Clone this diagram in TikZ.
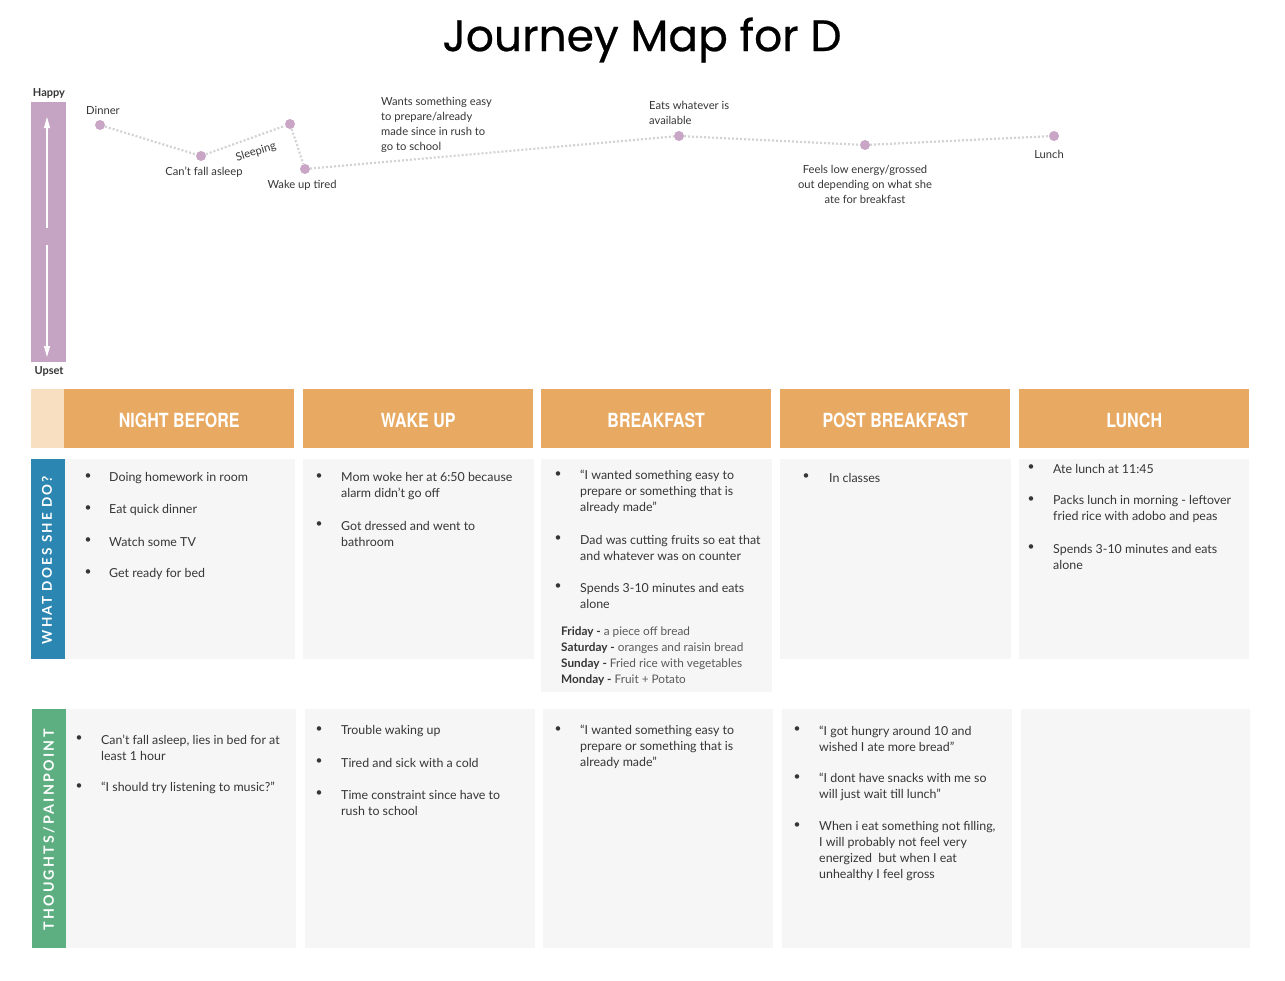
\documentclass[tikz,border=0pt]{standalone}
\usepackage{fontspec}
\setmainfont{Lato}
\newfontfamily\titlefont[FakeBold=0.6]{Poppins}
\newfontfamily\hdrfont[FakeStretch=0.82]{TeX Gyre Heros}
\newfontfamily\vlabfont[LetterSpace=16]{Lato}
\usetikzlibrary{arrows.meta}
\definecolor{moodpurple}{HTML}{C5A3C3}
\definecolor{dotpurple}{HTML}{C9A6C6}
\definecolor{hdrorange}{HTML}{E8AA63}
\definecolor{peach}{HTML}{F8DFC2}
\definecolor{rowblue}{HTML}{2C86B2}
\definecolor{rowgreen}{HTML}{5DAF82}
\definecolor{cellgray}{HTML}{F6F6F6}
\definecolor{txtgray}{HTML}{363636}
\definecolor{daygray}{HTML}{5A5A5A}
\definecolor{linegray}{HTML}{D3D3D3}
\tikzset{
  moodot/.style={circle, fill=dotpurple, inner sep=0pt, minimum size=10pt},
  moodline/.style={linegray, line width=2.2pt, dash pattern=on 2pt off 2pt},
  clab/.style={font=\fontsize{11.2}{15}\selectfont, text=txtgray, inner sep=0pt, align=left},
  hdr/.style={fill=hdrorange, minimum width=230pt, minimum height=59pt, inner sep=0pt,
    text=white, font=\hdrfont\bfseries\fontsize{19.5}{20}\selectfont},
  hdrtext/.style={text=white, inner sep=0pt, font=\hdrfont\bfseries\fontsize{19.5}{20}\selectfont},
  cell/.style={fill=cellgray},
  itm/.style={font=\fontsize{12.4}{16}\selectfont, text=txtgray, inner sep=0pt, align=left, anchor=west},
  bul/.style={font=\fontsize{12}{16}\selectfont, text=txtgray, inner sep=0pt},
  vlab/.style={rotate=90, text=white, inner sep=0pt, font=\vlabfont\bfseries\fontsize{13.5}{16}\selectfont},
  moodarrow/.style={white, line width=1.1pt, -{Triangle[width=6pt,length=11pt]}}
}
\begin{document}
\begin{tikzpicture}[x=1pt,y=-1pt]
\useasboundingbox (0,0) rectangle (1285,980);
\fill[white] (0,0) rectangle (1285,980);

% title
\node[font=\titlefont\fontsize{44}{50}\selectfont, text=black] (title) at (642,40) {Journey Map for D};

% mood scale
\node[font=\bfseries\fontsize{11}{13}\selectfont, text=txtgray, inner sep=0pt] (happy) at (49,93) {Happy};
\fill[moodpurple] (31,102) rectangle (66,362);
\node[font=\bfseries\fontsize{11}{13}\selectfont, text=txtgray, inner sep=0pt] (upset) at (49,371) {Upset};
\coordinate (aup1) at (47,228);
\coordinate (aup2) at (47,117);
\coordinate (adn1) at (47,245);
\coordinate (adn2) at (47,357);
\draw[moodarrow] (aup1) -- (aup2);
\draw[moodarrow] (adn1) -- (adn2);

% mood curve
\node[moodot] (d1) at (100,125) {};
\node[moodot] (d2) at (201,156) {};
\node[moodot] (d3) at (290,124) {};
\node[moodot] (d4) at (305,169) {};
\node[moodot] (d5) at (679,136) {};
\node[moodot] (d6) at (865,145) {};
\node[moodot] (d7) at (1054,136) {};
\draw[moodline] (d1) -- (d2);
\draw[moodline] (d2) -- (d3);
\draw[moodline] (d3) -- (d4);
\draw[moodline] (d4) -- (d5);
\draw[moodline] (d5) -- (d6);
\draw[moodline] (d6) -- (d7);

\node[clab, anchor=west] (l1) at (86,110) {Dinner};
\node[clab] (l2) at (204,172) {Can’t fall asleep};
\node[clab, rotate=17] (l3) at (256,152) {Sleeping};
\node[clab] (l4) at (302,185) {Wake up tired};
\node[clab, anchor=west] (l5) at (381,124.5) {Wants something easy\\to prepare/already\\made since in rush to\\go to school};
\node[clab, anchor=west] (l6) at (649,113) {Eats whatever is\\available};
\node[clab, align=center] (l7) at (865,184) {Feels low energy/grossed\\out depending on what she\\ate for breakfast};
\node[clab] (l8) at (1049,154) {Lunch};

% header row
\fill[peach] (31,389) rectangle (64,448);
\node[hdr, anchor=north west] (h1) at (64,389) {};
\node[hdr, anchor=north west] (h2) at (303,389) {};
\node[hdr, anchor=north west] (h3) at (541,389) {};
\node[hdr, anchor=north west] (h4) at (780,389) {};
\node[hdr, anchor=north west] (h5) at (1019,389) {};
\node[hdrtext] (t1) at ([yshift=-2pt]h1.center) {NIGHT BEFORE};
\node[hdrtext] (t2) at ([yshift=-2pt]h2.center) {WAKE UP};
\node[hdrtext] (t3) at ([yshift=-2pt]h3.center) {BREAKFAST};
\node[hdrtext] (t4) at ([yshift=-2pt]h4.center) {POST BREAKFAST};
\node[hdrtext] (t5) at ([yshift=-2pt]h5.center) {LUNCH};

% row 1
\fill[rowblue] (31,459) rectangle (65,659);
\node[vlab] (r1) at (47,560) {WHAT DOES SHE DO?};
\fill[cell] (65,459) rectangle (295,659);
\fill[cell] (303,459) rectangle (534,659);
\fill[cell] (541,459) rectangle (772,692);
\fill[cell] (780,459) rectangle (1011,659);
\fill[cell] (1019,459) rectangle (1249,659);

% row 2
\fill[rowgreen] (32,709) rectangle (66,948);
\node[vlab, font=\vlabfont\bfseries\fontsize{14.2}{16}\selectfont] (r2) at (49,830) {THOUGHTS/PAINPOINT};
\fill[cell] (66,709) rectangle (296,948);
\fill[cell] (305,709) rectangle (535,948);
\fill[cell] (543,709) rectangle (773,948);
\fill[cell] (782,709) rectangle (1012,948);
\fill[cell] (1021,709) rectangle (1250,948);

% row 1 col 1
\foreach \yy/\tt in {477/Doing homework in room, 509/Eat quick dinner, 541/Watch some TV, 573/Get ready for bed}{
  \node[bul] at (88,\yy) {•};
  \node[itm] at (109,\yy+1) {\tt};
}
% row 1 col 2
\node[bul] at (319,477) {•};
\node[itm] (a21) at (341,486) {Mom woke her at 6:50 because\\alarm didn’t go off};
\node[bul] at (319,525) {•};
\node[itm] (a22) at (341,534) {Got dressed and went to\\bathroom};
% row 1 col 3
\node[bul] at (558,475) {•};
\node[itm] (a31) at (580,492) {“I wanted something easy to\\prepare or something that is\\already made”};
\node[bul] at (558,539) {•};
\node[itm] (a32) at (580,548) {Dad was cutting fruits so eat that\\and whatever was on counter};
\node[bul] at (558,587) {•};
\node[itm] (a33) at (580,596) {Spends 3-10 minutes and eats\\alone};
\node[itm, font=\fontsize{11.8}{16}\selectfont, text=daygray] (days) at (561,656) {\textcolor{txtgray}{\textbf{Friday -}} a piece off bread\\\textcolor{txtgray}{\textbf{Saturday -}} oranges and raisin bread\\\textcolor{txtgray}{\textbf{Sunday -}} Fried rice with vegetables\\\textcolor{txtgray}{\textbf{Monday -}} Fruit + Potato};
% row 1 col 4
\node[bul] at (806,477) {•};
\node[itm] (a41) at (829,478) {In classes};
% row 1 col 5
\node[bul] at (1031,468) {•};
\node[itm] (a51) at (1053,469) {Ate lunch at 11:45};
\node[bul] at (1031,500) {•};
\node[itm] (a52) at (1053,509) {Packs lunch in morning - leftover\\fried rice with adobo and peas};
\node[bul] at (1031,548) {•};
\node[itm] (a53) at (1053,557) {Spends 3-10 minutes and eats\\alone};

% row 2 col 1
\node[bul] at (79,739) {•};
\node[itm] (b11) at (101,748) {Can’t fall asleep, lies in bed for at\\least 1 hour};
\node[bul] at (79,787) {•};
\node[itm] (b12) at (101,788) {“I should try listening to music?”};
% row 2 col 2
\node[bul] at (319,730) {•};
\node[itm] (b21) at (341,731) {Trouble waking up};
\node[bul] at (319,762) {•};
\node[itm] (b22) at (341,763) {Tired and sick with a cold};
\node[bul] at (319,794) {•};
\node[itm] (b23) at (341,803) {Time constraint since have to\\rush to school};
% row 2 col 3
\node[bul] at (558,730) {•};
\node[itm] (b31) at (580,747) {“I wanted something easy to\\prepare or something that is\\already made”};
% row 2 col 4
\node[bul] at (797,730) {•};
\node[itm] (b41) at (819,739) {“I got hungry around 10 and\\wished I ate more bread”};
\node[bul] at (797,778) {•};
\node[itm] (b42) at (819,787) {“I dont have snacks with me so\\will just wait till lunch”};
\node[bul] at (797,826) {•};
\node[itm] (b43) at (819,851) {When i eat something not filling,\\I will probably not feel very\\energized\ \ but when I eat\\unhealthy I feel gross};
\end{tikzpicture}
\end{document}
